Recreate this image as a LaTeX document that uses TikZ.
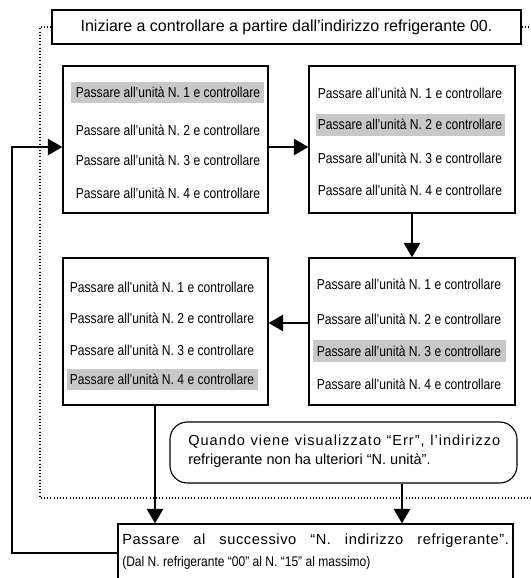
\documentclass[tikz,border=0pt]{standalone}
\usepackage{fontspec}
\setmainfont{Liberation Sans}
\newfontfamily\rowfont[FakeStretch=0.84]{Liberation Sans}
\newfontfamily\narrowfont[FakeStretch=0.86]{Liberation Sans}
\newfontfamily\spacedfont[LetterSpace=7]{Liberation Sans}
\newfontfamily\widefont[LetterSpace=4]{Liberation Sans}
\usetikzlibrary{arrows.meta}
\definecolor{hl}{RGB}{200,200,200}
\begin{document}
\begin{tikzpicture}[x=0.75pt,y=-0.75pt,
  box/.style={draw, line width=0.85pt, inner sep=0, fill=white},
  rowtxt/.style={font=\rowfont\fontsize{10.8pt}{12pt}\selectfont, inner sep=0},
  hlbar/.style={fill=hl, inner sep=0, minimum height=16pt},
  flow/.style={line width=2.2pt, -{Triangle[length=11pt,width=12pt]}},
  frame/.style={line width=0.8pt, dash pattern=on 0.8pt off 1.6pt}]
\clip (0,0) rectangle (531,578);
% coordinates
\coordinate (yA) at (0,147);
\coordinate (yC) at (0,323);
\coordinate (xD) at (155,0);
\coordinate (xN) at (402,0);
\coordinate (L1) at (12,553);
\coordinate (L2) at (12,147);
\coordinate (F1) at (40,27);
\coordinate (F2) at (40,498);
\coordinate (F3) at (531,498);
\coordinate (F4) at (531,27);
% top box
\node[box, minimum width=351.75pt, minimum height=25.5pt] (T) at (286.5,27) {};
\node[inner sep=0, font=\fontsize{12pt}{14pt}\selectfont] (Tt) at (T.center) {Iniziare a controllare a partire dall’indirizzo refrigerante 00.};
% dotted frame
\draw[frame] (T.west) -- (F1) -- (F2) -- (F3);
\draw[frame] (T.east) -- (F4);
% box A
\node[box, minimum width=153.75pt, minimum height=110.25pt] (A) at (165.5,139.5) {};
\node[hlbar, minimum width=144.75pt] (ah) at (167.5,92.5) {};
\node[rowtxt] (a1) at (168,92) {Passare all’unità N. 1 e controllare};
\node[rowtxt] (a2) at (168,130) {Passare all’unità N. 2 e controllare};
\node[rowtxt] (a3) at (168,160) {Passare all’unità N. 3 e controllare};
\node[rowtxt] (a4) at (168,193) {Passare all’unità N. 4 e controllare};
% box B
\node[box, minimum width=154.5pt, minimum height=110.25pt] (B) at (412,139.5) {};
\node[hlbar, minimum width=141.75pt] (bh) at (410.5,125) {};
\node[rowtxt] (b1) at (410,93) {Passare all’unità N. 1 e controllare};
\node[rowtxt] (b2) at (410,124.5) {Passare all’unità N. 2 e controllare};
\node[rowtxt] (b3) at (410,158) {Passare all’unità N. 3 e controllare};
\node[rowtxt] (b4) at (410,190) {Passare all’unità N. 4 e controllare};
% box C
\node[box, minimum width=154.5pt, minimum height=110.25pt] (C) at (412,331.5) {};
\node[hlbar, minimum width=144.75pt] (ch) at (409.5,351) {};
\node[rowtxt] (c1) at (409,284) {Passare all’unità N. 1 e controllare};
\node[rowtxt] (c2) at (409,319) {Passare all’unità N. 2 e controllare};
\node[rowtxt] (c3) at (409,351) {Passare all’unità N. 3 e controllare};
\node[rowtxt] (c4) at (409,384) {Passare all’unità N. 4 e controllare};
% box D
\node[box, minimum width=153.75pt, minimum height=110.25pt] (D) at (165.5,331.5) {};
\node[hlbar, minimum width=143.25pt] (dh) at (162.5,379.5) {};
\node[rowtxt] (d1) at (162,287) {Passare all’unità N. 1 e controllare};
\node[rowtxt] (d2) at (162,318) {Passare all’unità N. 2 e controllare};
\node[rowtxt] (d3) at (162,350) {Passare all’unità N. 3 e controllare};
\node[rowtxt] (d4) at (162,379.5) {Passare all’unità N. 4 e controllare};
% note
\node[box, rounded corners=13pt, minimum width=260.25pt, minimum height=45.75pt] (N) at (343.5,452.5) {};
\node[inner sep=0, anchor=west, font=\fontsize{10.9pt}{13pt}\selectfont] (n1) at (188,442) {\makebox[234pt][s]{\spacedfont Quando viene visualizzato “Err”, l’indirizzo}};
\node[inner sep=0, anchor=west, font=\fontsize{10.9pt}{13pt}\selectfont] (n2) at (188,461) {refrigerante non ha ulteriori “N. unità”.};
% bottom box
\node[box, minimum width=296.25pt, minimum height=57pt] (Bt) at (315.5,562) {};
\node[inner sep=0, anchor=west, font=\fontsize{11pt}{12pt}\selectfont] (m1) at (122,541) {\makebox[290pt][s]{\widefont Passare al successivo “N. indirizzo refrigerante”.}};
\node[inner sep=0, anchor=west, font=\narrowfont\fontsize{10.5pt}{12pt}\selectfont] (m2) at (122,563) {(Dal N. refrigerante “00” al N. “15” al massimo)};
% connectors
\draw[flow] (A.east |- yA) -- (B.west |- yA);
\draw[flow] (B.south) -- (C.north);
\draw[flow] (C.west |- yC) -- (D.east |- yC);
\draw[flow] (xD |- D.south) -- (xD |- Bt.north);
\draw[flow] (xN |- N.south) -- (xN |- Bt.north);
\draw[flow] (Bt.west |- L1) -- (L1) -- (L2) -- (A.west |- L2);
\end{tikzpicture}
\end{document}
